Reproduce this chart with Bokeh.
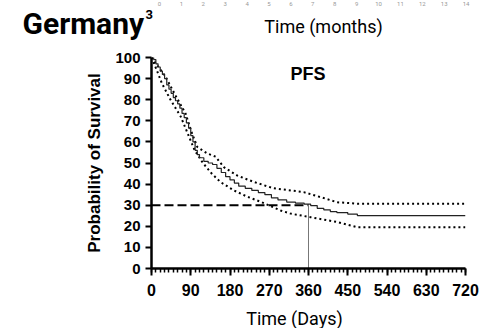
from bokeh.plotting import figure
from bokeh.models import FixedTicker, Label, Range1d
from bokeh.layouts import column
from bokeh.embed import file_html
from bokeh.resources import INLINE

# ---- data ----
km_days = [0, 5, 10, 15, 20, 25, 30, 35, 40, 45, 50, 55, 60, 65, 70, 75, 80, 85, 90, 95,
           100, 105, 110, 120, 130, 140, 150, 160, 170, 180, 190, 200, 215, 230, 245, 260,
           275, 290, 310, 330, 350, 365, 380, 395, 410, 425, 450, 472, 720]
km_surv = [100, 99, 97, 95.5, 93.5, 92, 90, 87, 85, 83, 81, 79.5, 78, 76, 73.5, 71.5, 69, 66.5, 63, 60,
           56, 54, 52.5, 50.8, 50, 49.3, 47.5, 45.5, 43.5, 42, 40.5, 39, 38, 37, 36, 35,
           33.5, 32.5, 31.5, 31, 30.5, 29.8, 28.5, 27.8, 27, 26.5, 25.8, 25.1, 25.1]

upper_days = [0, 14, 32, 55, 78, 93, 105, 128, 147, 166, 197, 235, 280, 349, 388, 426, 472, 720]
upper_surv = [100, 96, 91, 82, 73.5, 64, 57.6, 54.5, 53, 48, 44, 41, 38, 36.2, 33.8, 31.4, 30.7, 30.7]

lower_days = [0, 9, 24, 44, 67, 83, 99, 118, 138, 158, 189, 220, 253, 296, 319, 365, 426, 472, 720]
lower_surv = [100, 95.6, 87.7, 79.8, 72, 64, 56, 50, 45, 41, 37, 34, 31.4, 27.5, 26, 24.3, 22, 19.6, 19.6]

median_level = [30]
median_day = [360]

x_ticks = [0, 90, 180, 270, 360, 450, 540, 630, 720]
x_minor = list(range(0, 721, 10))
y_ticks = [0, 10, 20, 30, 40, 50, 60, 70, 80, 90, 100]
month_labels = [str(m) for m in range(16)]

# ---- layout (pixels) ----
W = 479
HEAD_H, MAIN_H, FOOT_H = 45, 260, 23
L, R, T, B = 151, 14, 12, 37


def text_panel(h):
    f = figure(frame_width=W, frame_height=h, output_backend="svg", toolbar_location=None,
               title=None, x_range=Range1d(0, W), y_range=Range1d(h, 0),
               x_axis_location=None, y_axis_location=None,
               min_border=0, min_border_left=0, min_border_right=0,
               min_border_top=0, min_border_bottom=0, frame_align=False)
    f.outline_line_color = None
    f.xgrid.grid_line_color = None
    f.ygrid.grid_line_color = None
    f.background_fill_color = "white"
    f.border_fill_color = "white"
    return f


# header
head = text_panel(HEAD_H)
head.add_layout(Label(x=22, y=23, text="Germany", text_font="Roboto", text_font_style="bold",
                      text_font_size="30px", text_align="left", text_baseline="middle",
                      text_color="black"))
head.add_layout(Label(x=145, y=13.5, text="3", text_font="Roboto", text_font_style="bold",
                      text_font_size="13px", text_align="left", text_baseline="middle",
                      text_color="black"))
head.add_layout(Label(x=323, y=25.5, text="Time (months)", text_font="Roboto",
                      text_font_size="18px", text_align="center", text_baseline="middle",
                      text_color="black"))
for i, m in enumerate(month_labels[:15]):
    head.add_layout(Label(x=159 + 21.9 * i, y=3.5, text=m, text_font="Roboto",
                          text_font_size="6px", text_align="center", text_baseline="middle",
                          text_color="#999999"))

# main plot
p = figure(width=W, height=MAIN_H, output_backend="svg", toolbar_location=None, title=None,
           x_range=Range1d(0, 720), y_range=Range1d(0, 100),
           min_border_left=L, min_border_right=R, min_border_top=T, min_border_bottom=B,
           frame_align=False)
p.outline_line_color = None
p.xgrid.grid_line_color = None
p.ygrid.grid_line_color = None
p.background_fill_color = "white"
p.border_fill_color = "white"

p.line(upper_days, upper_surv, line_color="black", line_width=2, line_dash="2 3")
p.line(lower_days, lower_surv, line_color="black", line_width=2, line_dash="2 3")
p.step(km_days, km_surv, mode="after", line_color="#222222", line_width=1.2)

p.line([0, median_day[0]], [median_level[0], median_level[0]], line_color="black",
       line_width=2, line_dash="9 4")
p.line([median_day[0], median_day[0]], [0, median_level[0]], line_color="#777777", line_width=1)

xa = p.xaxis[0]
xa.ticker = FixedTicker(ticks=x_ticks, minor_ticks=x_minor)
ya = p.yaxis[0]
ya.ticker = FixedTicker(ticks=y_ticks)
for ax in (xa, ya):
    ax.axis_line_width = 2.5
    ax.axis_line_color = "black"
    ax.major_tick_line_width = 2
    ax.major_tick_line_color = "black"
    ax.major_tick_in = 0
    ax.minor_tick_in = 0
    ax.major_label_text_font = "Liberation Sans"
    ax.major_label_text_font_style = "bold"
    ax.major_label_text_color = "black"
xa.major_tick_out = 7
xa.minor_tick_out = 4
xa.minor_tick_line_width = 1.5
xa.minor_tick_line_color = "black"
xa.major_label_text_font_size = "16px"
xa.major_label_standoff = 8
ya.major_tick_out = 6
ya.minor_tick_line_color = None
ya.major_label_text_font_size = "15px"
ya.major_label_standoff = 5
ya.axis_label = "Probability of Survival"
ya.axis_label_text_font = "Liberation Sans"
ya.axis_label_text_font_style = "bold"
ya.axis_label_text_font_size = "17px"
ya.axis_label_text_color = "black"
ya.axis_label_standoff = 8

p.add_layout(Label(x=359, y=92, text="PFS", text_font="Liberation Sans", text_font_style="bold",
                   text_font_size="18px", text_align="center", text_baseline="middle",
                   text_color="black"))

# footer
foot = text_panel(FOOT_H)
foot.add_layout(Label(x=294, y=12.5, text="Time (Days)", text_font="Roboto",
                      text_font_size="18px", text_align="center", text_baseline="middle",
                      text_color="black"))

layout = column(head, p, foot, spacing=0)
open("out.html", "w").write(file_html(layout, INLINE))
